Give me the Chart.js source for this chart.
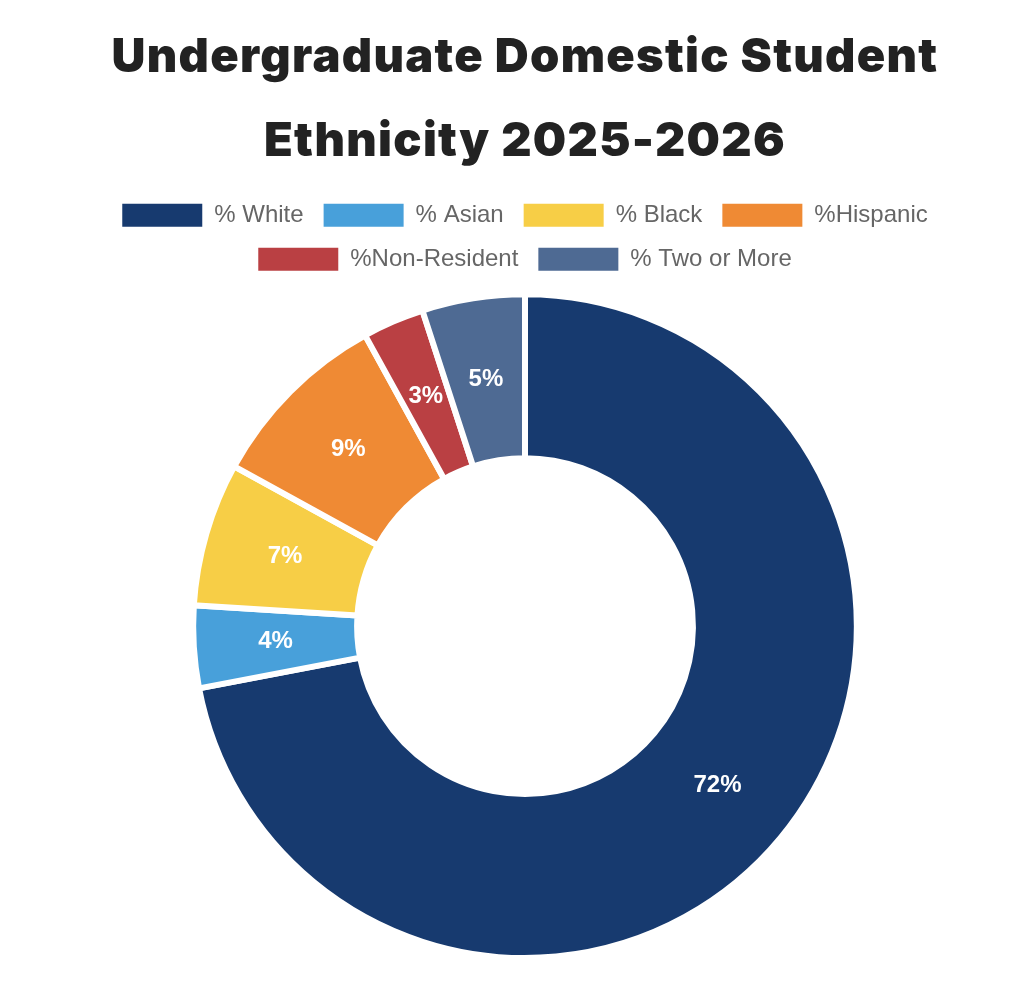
<!DOCTYPE html>
<html>
<head>
<meta charset="utf-8">
<script src="https://cdn.jsdelivr.net/npm/chart.js@4.4.1/dist/chart.umd.min.js"></script>
<style>
  html, body { margin:0; padding:0; background:#fff; }
  #wrap { position:relative; width:1012px; height:996px; }
</style>
</head>
<body>
<div id="wrap"><canvas id="ethChart"></canvas></div>
<script>
const TITLE_LINES = ["Undergraduate Domestic Student", "Ethnicity 2025-2026"];
const LABELS = ["% White", "% Asian", "% Black", "%Hispanic", "%Non-Resident", "% Two or More"];
const VALUES = [72, 4, 7, 9, 3, 5];
const COLORS = ["#173A6F", "#48A0DA", "#F7CE46", "#EF8A34", "#BA4043", "#4E6A93"];

// draws the white % figure in the middle of each slice
const sliceLabels = {
  id: "sliceLabels",
  afterDatasetsDraw(chart){
    const {ctx} = chart;
    const meta = chart.getDatasetMeta(0);
    const data = chart.data.datasets[0].data;
    const total = data.reduce((a,b) => a + b, 0);
    ctx.save();
    ctx.font = "bold 24px 'Liberation Sans', Arial, sans-serif";
    ctx.fillStyle = "#fff";
    ctx.textAlign = "center";
    ctx.textBaseline = "middle";
    meta.data.forEach((arc, i) => {
      const p = arc.tooltipPosition();
      ctx.fillText(Math.round(data[i] / total * 100) + "%", p.x, p.y);
    });
    ctx.restore();
  }
};

// extra room under the legend, and a touch of tracking on the title
const tweaks = {
  id: "tweaks",
  beforeLayout(chart){
    const lg = chart.legend;
    if (lg && !lg._patched){
      const fit = lg.fit;
      lg.fit = function(){ fit.call(this); this.height += 10; };
      lg._patched = true;
    }
    const tb = chart.titleBlock;
    if (tb && !tb._patched){
      const draw = tb.draw;
      tb.draw = function(){
        const ctx = this.ctx;
        ctx.save();
        ctx.letterSpacing = "1.3px";
        draw.apply(this, arguments);
        ctx.restore();
      };
      tb._patched = true;
    }
  }
};

const baseLabels = Chart.overrides.doughnut.plugins.legend.labels.generateLabels;

new Chart(document.getElementById("ethChart"), {
  type: "doughnut",
  data: {
    labels: LABELS,
    datasets: [{ data: VALUES, backgroundColor: COLORS, borderColor: "#fff", borderWidth: 6 }]
  },
  options: {
    responsive: true,
    maintainAspectRatio: false,
    animation: false,
    cutout: "50.6%",
    layout: { padding: { left: 38, bottom: 35 } },
    plugins: {
      title: {
        display: true,
        text: TITLE_LINES,
        color: "#222",
        font: { family: "Inter", size: 47, weight: "900", lineHeight: 1.78 },
        padding: { top: 16, bottom: 0 }
      },
      legend: {
        position: "top",
        labels: {
          boxWidth: 80, boxHeight: 23, padding: 20,
          color: "#666",
          font: { family: "'Liberation Sans', Arial, sans-serif", size: 24 },
          generateLabels(chart){
            return baseLabels(chart).map(l => Object.assign(l, { lineWidth: 0 }));
          }
        }
      },
      tooltip: { enabled: false }
    }
  },
  plugins: [sliceLabels, tweaks]
});
</script>
</body>
</html>
